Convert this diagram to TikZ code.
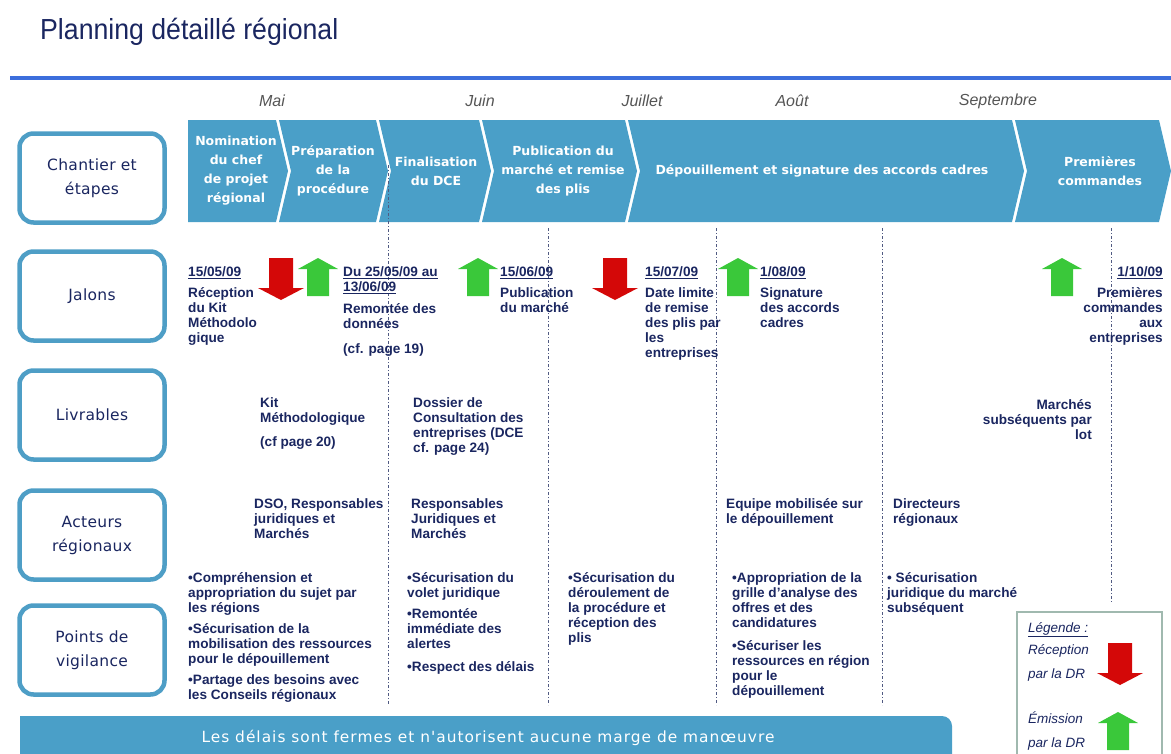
\documentclass[tikz,border=0pt]{standalone}
\usepackage{fontspec}
\setmainfont{Liberation Sans}
\newfontfamily\titlefont[FakeStretch=0.92]{Liberation Sans}
\newfontfamily\tahomafont{DejaVu Sans}
\newfontfamily\labelfont[LetterSpace=2]{DejaVu Sans}
\newfontfamily\barfont[LetterSpace=6.5]{DejaVu Sans}
\usetikzlibrary{positioning}
\definecolor{NavyText}{RGB}{26,38,96}
\definecolor{StepBlue}{RGB}{74,159,200}
\definecolor{BoxBorder}{RGB}{78,158,198}
\definecolor{RuleBlue}{RGB}{60,110,220}
\definecolor{MonthGray}{RGB}{85,85,85}
\definecolor{DownRed}{RGB}{212,8,8}
\definecolor{UpGreen}{RGB}{58,200,58}
\definecolor{GridLine}{RGB}{80,90,130}
\definecolor{LegendBorder}{RGB}{160,185,175}
\tikzset{
  % row header boxes
  rowbox/.style={
    draw=BoxBorder,
    line width=4.5pt,
    rounded corners=14pt,
    fill=white,
    minimum width=145pt,
    minimum height=89pt,
    align=center,
    text=NavyText,
    font=\labelfont\fontsize{15.5}{24}\selectfont
  },
  % month names
  month/.style={font=\itshape\fontsize{16}{18}\selectfont, text=MonthGray},
  % chevron steps
  stepfill/.style={fill=StepBlue},
  steptext/.style={
    align=center,
    text=white,
    inner sep=0pt,
    font=\tahomafont\bfseries\fontsize{12.5}{19}\selectfont
  },
  % cell texts
  cell/.style={
    anchor=north west,
    align=left,
    inner sep=0pt,
    text=NavyText,
    font=\bfseries\fontsize{13.6}{15}\selectfont
  },
  rcell/.style={cell, anchor=north east, align=right},
  gridline/.style={draw=GridLine, line width=0.8pt, dash pattern=on 3pt off 2pt on 1pt off 2pt},
  legendtext/.style={anchor=north west, align=left, inner sep=0pt, text=NavyText, font=\itshape\fontsize{13.5}{15}\selectfont},
  % block arrows
  pics/downblock/.style={code={
    \fill[DownRed] (-12,0) -- (12,0) -- (12,30) -- (23,30) -- (0,42) -- (-23,30) -- (-12,30) -- cycle;
  }},
  pics/upblock/.style={code={
    \fill[UpGreen] (0,0) -- (20,11) -- (11,11) -- (11,38) -- (-11,38) -- (-11,11) -- (-20,11) -- cycle;
  }}
}
\begin{document}
\begin{tikzpicture}[x=1pt,y=-1pt]
  \useasboundingbox (0,0) rectangle (1171,753);

  % title
  \node[anchor=base west, inner sep=0pt, text=NavyText, font=\titlefont\fontsize{29}{32}\selectfont] (title) at (40,39) {Planning détaillé régional};
  \draw[RuleBlue, line width=3.5pt] (10,78) -- (1171,78);

  % row headers
  \node[rowbox] (chantier) at (92,178) {Chantier et\\étapes};
  \node[rowbox] (jalons) at (92,296) {Jalons};
  \node[rowbox] (livrables) at (92,415) {Livrables};
  \node[rowbox] (acteurs) at (92,535) {Acteurs\\régionaux};
  \node[rowbox] (vigilance) at (92,650) {Points de\\vigilance};

  % months
  \node[month] (mai) at (272,101) {Mai};
  \node[month] (juin) at (480,101) {Juin};
  \node[month] (juillet) at (642,101) {Juillet};
  \node[month] (aout) at (792,101) {Août};
  \node[month] (septembre) at (998,101) {Septembre};

  % chevrons
  \fill[stepfill] (188,120) -- (276,120) -- (288,171) -- (276,222) -- (188,222) -- cycle;
  \foreach \a/\b in {279/388, 379/491, 482/637, 628/1024, 1015/1171}
    \fill[stepfill] (\a,120) -- (\b-12,120) -- (\b,171) -- (\b-12,222) -- (\a,222) -- (\a+12,171) -- cycle;

  \node[steptext] (nomination) at (236,171) {Nomination\\du chef\\de projet\\régional};
  \node[steptext] (preparation) at (333,171) {Préparation\\de la\\procédure};
  \node[steptext] (finalisation) at (436,171) {Finalisation\\du DCE};
  \node[steptext] (publication) at (563,171) {Publication du\\marché et remise\\des plis};
  \node[steptext] (depouillement) at (822,171) {Dépouillement et signature des accords cadres};
  \node[steptext] (commandes) at (1100,171) {Premières\\commandes};

  % vertical guides
  \draw[gridline] (388,165) -- (388,705);
  \foreach \x in {548, 716, 882}
    \draw[gridline] (\x,228) -- (\x,705);
  \draw[gridline] (1111,228) -- (1111,602);

  % jalons
  \pic at (281,258) {downblock};
  \pic at (318,258) {upblock};
  \pic at (478,258) {upblock};
  \pic at (615,258) {downblock};
  \pic at (738,258) {upblock};
  \pic at (1062,258) {upblock};

  \node[cell] (j1) at (188,266) {\underline{15/05/09}\\[6pt]Réception\\du Kit\\Méthodolo\\gique};
  \node[cell] (j2) at (343,266) {\underline{Du 25/05/09 au}\\\underline{13/06/09}\\[7pt]Remontée des\\données\\[10pt](cf. page 19)};
  \node[cell] (j3) at (500,266) {\underline{15/06/09}\\[6pt]Publication\\du marché};
  \node[cell] (j4) at (645,266) {\underline{15/07/09}\\[6pt]Date limite\\de remise\\des plis par\\les\\entreprises};
  \node[cell] (j5) at (760,266) {\underline{1/08/09}\\[6pt]Signature\\des accords\\cadres};
  \node[rcell] (j6) at (1163,266) {\underline{1/10/09}\\[6pt]Premières\\commandes\\aux\\entreprises};

  % livrables
  \node[cell] (l1) at (260,397) {Kit\\Méthodologique\\[9pt](cf page 20)};
  \node[cell] (l2) at (413,397) {Dossier de\\Consultation des\\entreprises (DCE\\cf. page 24)};
  \node[rcell] (l3) at (1092,399) {Marchés\\subséquents par\\lot};

  % acteurs
  \node[cell] (a1) at (254,498) {DSO, Responsables\\juridiques et\\Marchés};
  \node[cell] (a2) at (411,498) {Responsables\\Juridiques et\\Marchés};
  \node[cell] (a3) at (726,498) {Equipe mobilisée sur\\le dépouillement};
  \node[cell] (a4) at (893,498) {Directeurs\\régionaux};

  % points de vigilance
  \node[cell] (v1) at (188,572) {•Compréhension et\\appropriation du sujet par\\les régions\\[6pt]•Sécurisation de la\\mobilisation des ressources\\pour le dépouillement\\[6pt]•Partage des besoins avec\\les Conseils régionaux};
  \node[cell] (v2) at (407,572) {•Sécurisation du\\volet juridique\\[6pt]•Remontée\\immédiate des\\alertes\\[8pt]•Respect des délais};
  \node[cell] (v3) at (568,572) {•Sécurisation du\\déroulement de\\la procédure et\\réception des\\plis};
  \node[cell] (v4) at (732,572) {•Appropriation de la\\grille d'analyse des\\offres et des\\candidatures\\[8pt]•Sécuriser les\\ressources en région\\pour le\\dépouillement};
  \node[cell] (v5) at (887,572) {• Sécurisation\\juridique du marché\\subséquent};

  % bottom banner
  \fill[StepBlue] (20,760) -- (20,716) -- (942,716) arc[start angle=-90, end angle=0, radius=10] -- (952,760) -- cycle;
  \node[text=white, font=\barfont\fontsize{15.4}{17}\selectfont] (delais) at (488,738) {Les délais sont fermes et n'autorisent aucune marge de manœuvre};

  % legend
  \draw[LegendBorder, line width=1.5pt, fill=white] (1017,612) rectangle (1162,760);
  \node[legendtext] (legende) at (1028,622) {\underline{Légende :}};
  \node[legendtext] (reception) at (1028,644) {Réception\\[9pt]par la DR};
  \node[legendtext] (emission) at (1028,712) {Émission\\[9pt]par la DR};
  \pic at (1120,643) {downblock};
  \pic at (1118,712) {upblock};
\end{tikzpicture}
\end{document}
